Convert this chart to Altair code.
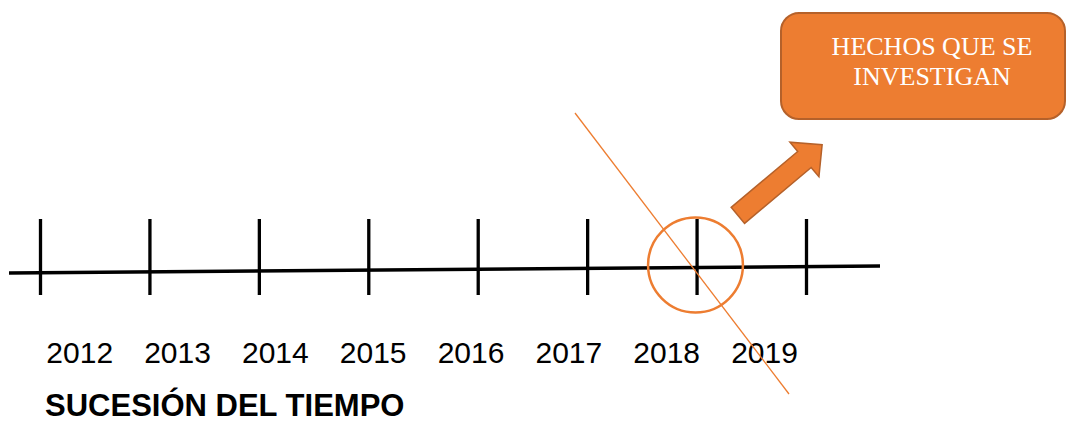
import altair as alt
import pandas as pd

# ---- data ----
years = [2012, 2013, 2014, 2015, 2016, 2017, 2018, 2019]
year_labels = [str(y) for y in years]
box_lines = ["HECHOS QUE SE", "INVESTIGAN"]
title_text = "SUCESIÓN DEL TIEMPO"
highlight_year = 2018

ORANGE = "#ED7D31"
ORANGE_DARK = "#B5612A"

W, H = 1059, 413
px = alt.Scale(domain=[8, 8 + W], zero=False, nice=False)
py = alt.Scale(domain=[8, 8 + H], zero=False, nice=False, reverse=True)
one = pd.DataFrame({"k": [0]})
ydf = pd.DataFrame({"year": years, "label": year_labels})


def X(v):
    return alt.X(datum=v, scale=px, axis=None)


def Y(v):
    return alt.Y(datum=v, scale=py, axis=None)


tick_scale = alt.Scale(domain=[2012, 2019], range=[32.5, 798.5], zero=False, nice=False)
label_scale = alt.Scale(domain=[2012, 2019], range=[71.7, 756.5], zero=False, nice=False)

main_line = alt.Chart(one).mark_rule(color="black", strokeWidth=3.5).encode(
    x=X(9), y=Y(273), x2=alt.X2(datum=880), y2=alt.Y2(datum=266)
)

ticks = alt.Chart(ydf).mark_rule(color="black", strokeWidth=3.3).encode(
    x=alt.X("year:Q", scale=tick_scale, axis=None),
    y=Y(219),
    y2=alt.Y2(datum=295),
)

labels = alt.Chart(ydf).mark_text(
    font="Liberation Sans", fontSize=30, color="black", baseline="alphabetic", align="center"
).encode(
    x=alt.X("year:Q", scale=label_scale, axis=None),
    y=Y(363),
    text="label:N",
)

title = alt.Chart(one).mark_text(
    text=title_text, font="Liberation Sans", fontSize=31, fontWeight="bold",
    color="black", align="left", baseline="alphabetic"
).encode(x=X(45), y=Y(416))

circle = alt.Chart(one).mark_point(
    shape="circle", size=9000, filled=False, color=ORANGE, strokeWidth=2.5, opacity=1
).encode(x=X(695.5), y=Y(265))

cross_line = alt.Chart(one).mark_rule(color=ORANGE, strokeWidth=1.3).encode(
    x=X(575), y=Y(113), x2=alt.X2(datum=789), y2=alt.Y2(datum=394)
)

arrow_path = "M -0.19 1 L 0.19 1 L 0.19 -0.58 L 0.41 -0.58 L 0 -1 L -0.41 -0.58 L -0.19 -0.58 Z"
arrow = alt.Chart(one).mark_point(
    shape=arrow_path, size=12100, filled=True, fill=ORANGE, stroke=ORANGE_DARK,
    strokeWidth=1.5, angle=50, opacity=1, fillOpacity=1
).encode(x=X(780), y=Y(180))

box = alt.Chart(one).mark_rect(
    fill=ORANGE, stroke=ORANGE_DARK, strokeWidth=2, cornerRadius=18
).encode(x=X(781), x2=alt.X2(datum=1065), y=Y(13), y2=alt.Y2(datum=119))

box_text = alt.Chart(one).mark_text(
    text=box_lines, font="Liberation Serif", fontSize=26, color="white",
    align="center", baseline="alphabetic", lineHeight=30
).encode(x=X(932), y=Y(55))

chart = alt.layer(
    main_line, ticks, labels, title, cross_line, circle, arrow, box, box_text
).resolve_scale(x="independent").properties(
    width=W, height=H, padding=0, autosize=alt.AutoSizeParams(type="none")
).configure_view(stroke=None)

chart.save("out.html", embed_options={"renderer": "svg", "actions": False})
